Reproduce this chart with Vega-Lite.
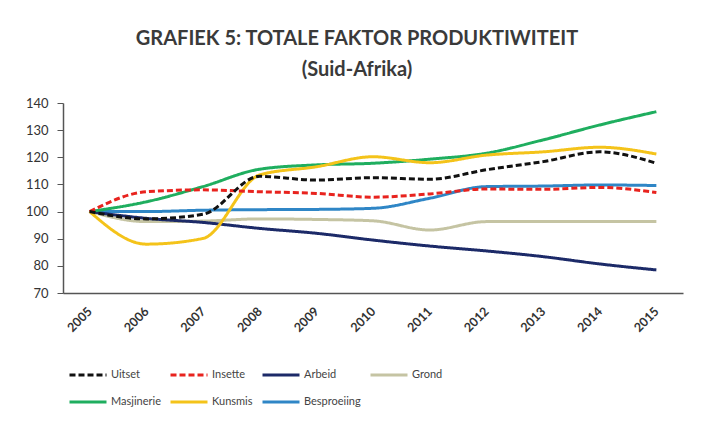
{
  "$schema": "https://vega.github.io/schema/vega-lite/v6.json",
  "width": 620,
  "height": 190,
  "autosize": {"type": "none"},
  "padding": {"left": 63, "top": 103, "right": 19, "bottom": 135},
  "background": "#ffffff",
  "title": {
    "text": ["GRAFIEK 5: TOTALE FAKTOR PRODUKTIWITEIT", "(Suid-Afrika)"],
    "font": "Lato",
    "fontSize": 20,
    "fontWeight": "bold",
    "color": "#3a3a3a",
    "lineHeight": 31,
    "anchor": "middle",
    "dx": -16,
    "offset": 17
  },
  "data": {
    "values": [
      {"year": "2005", "series": "Besproeiing", "value": 100},
      {"year": "2006", "series": "Besproeiing", "value": 100},
      {"year": "2007", "series": "Besproeiing", "value": 100.5},
      {"year": "2008", "series": "Besproeiing", "value": 100.7},
      {"year": "2009", "series": "Besproeiing", "value": 100.8},
      {"year": "2010", "series": "Besproeiing", "value": 101.2},
      {"year": "2011", "series": "Besproeiing", "value": 104.9},
      {"year": "2012", "series": "Besproeiing", "value": 109.2},
      {"year": "2013", "series": "Besproeiing", "value": 109.4},
      {"year": "2014", "series": "Besproeiing", "value": 109.8},
      {"year": "2015", "series": "Besproeiing", "value": 109.6},
      {"year": "2005", "series": "Grond", "value": 100},
      {"year": "2006", "series": "Grond", "value": 96.3},
      {"year": "2007", "series": "Grond", "value": 96.5},
      {"year": "2008", "series": "Grond", "value": 97.3},
      {"year": "2009", "series": "Grond", "value": 97.1},
      {"year": "2010", "series": "Grond", "value": 96.6},
      {"year": "2011", "series": "Grond", "value": 93.2},
      {"year": "2012", "series": "Grond", "value": 96.3},
      {"year": "2013", "series": "Grond", "value": 96.3},
      {"year": "2014", "series": "Grond", "value": 96.3},
      {"year": "2015", "series": "Grond", "value": 96.3},
      {"year": "2005", "series": "Arbeid", "value": 100},
      {"year": "2006", "series": "Arbeid", "value": 97.5},
      {"year": "2007", "series": "Arbeid", "value": 96},
      {"year": "2008", "series": "Arbeid", "value": 93.8},
      {"year": "2009", "series": "Arbeid", "value": 92},
      {"year": "2010", "series": "Arbeid", "value": 89.5},
      {"year": "2011", "series": "Arbeid", "value": 87.3},
      {"year": "2012", "series": "Arbeid", "value": 85.5},
      {"year": "2013", "series": "Arbeid", "value": 83.4},
      {"year": "2014", "series": "Arbeid", "value": 80.7},
      {"year": "2015", "series": "Arbeid", "value": 78.5},
      {"year": "2005", "series": "Masjinerie", "value": 100},
      {"year": "2006", "series": "Masjinerie", "value": 103.6},
      {"year": "2007", "series": "Masjinerie", "value": 109.2},
      {"year": "2008", "series": "Masjinerie", "value": 115.6},
      {"year": "2009", "series": "Masjinerie", "value": 117.2},
      {"year": "2010", "series": "Masjinerie", "value": 117.8},
      {"year": "2011", "series": "Masjinerie", "value": 119.3},
      {"year": "2012", "series": "Masjinerie", "value": 121.5},
      {"year": "2013", "series": "Masjinerie", "value": 126.4},
      {"year": "2014", "series": "Masjinerie", "value": 131.9},
      {"year": "2015", "series": "Masjinerie", "value": 136.8},
      {"year": "2005", "series": "Kunsmis", "value": 100},
      {"year": "2006", "series": "Kunsmis", "value": 88},
      {"year": "2007", "series": "Kunsmis", "value": 90.1},
      {"year": "2008", "series": "Kunsmis", "value": 113.5},
      {"year": "2009", "series": "Kunsmis", "value": 116.5},
      {"year": "2010", "series": "Kunsmis", "value": 120.2},
      {"year": "2011", "series": "Kunsmis", "value": 118},
      {"year": "2012", "series": "Kunsmis", "value": 120.8},
      {"year": "2013", "series": "Kunsmis", "value": 122},
      {"year": "2014", "series": "Kunsmis", "value": 123.7},
      {"year": "2015", "series": "Kunsmis", "value": 121.2},
      {"year": "2005", "series": "Insette", "value": 100},
      {"year": "2006", "series": "Insette", "value": 107.3},
      {"year": "2007", "series": "Insette", "value": 108},
      {"year": "2008", "series": "Insette", "value": 107.3},
      {"year": "2009", "series": "Insette", "value": 106.7},
      {"year": "2010", "series": "Insette", "value": 105.3},
      {"year": "2011", "series": "Insette", "value": 106.5},
      {"year": "2012", "series": "Insette", "value": 108.3},
      {"year": "2013", "series": "Insette", "value": 108.2},
      {"year": "2014", "series": "Insette", "value": 108.9},
      {"year": "2015", "series": "Insette", "value": 107},
      {"year": "2005", "series": "Uitset", "value": 100},
      {"year": "2006", "series": "Uitset", "value": 97.3},
      {"year": "2007", "series": "Uitset", "value": 99},
      {"year": "2008", "series": "Uitset", "value": 113},
      {"year": "2009", "series": "Uitset", "value": 111.6},
      {"year": "2010", "series": "Uitset", "value": 112.5},
      {"year": "2011", "series": "Uitset", "value": 111.9},
      {"year": "2012", "series": "Uitset", "value": 115.4},
      {"year": "2013", "series": "Uitset", "value": 118.4},
      {"year": "2014", "series": "Uitset", "value": 122},
      {"year": "2015", "series": "Uitset", "value": 117.8}
    ]
  },
  "mark": {"type": "line", "interpolate": "monotone"},
  "encoding": {
    "x": {
      "field": "year",
      "type": "ordinal",
      "scale": {"type": "point", "padding": 0.47},
      "axis": {
        "title": null,
        "labelAngle": -45,
        "labelAlign": "right",
        "labelBaseline": "middle",
        "labelPadding": 16,
        "labelFont": "Lato",
        "labelFontSize": 12.5,
        "labelFontWeight": "bold",
        "labelColor": "#333333",
        "ticks": false,
        "domainColor": "#555555",
        "domainWidth": 1.5,
        "grid": false
      }
    },
    "y": {
      "field": "value",
      "type": "quantitative",
      "scale": {"domain": [70, 140], "nice": false, "zero": false},
      "axis": {
        "title": null,
        "values": [70, 80, 90, 100, 110, 120, 130, 140],
        "labelFont": "Lato",
        "labelFontSize": 13,
        "labelColor": "#333333",
        "labelPadding": 9,
        "tickSize": 6,
        "tickColor": "#555555",
        "domainColor": "#555555",
        "domainWidth": 1.5,
        "grid": false
      }
    },
    "color": {
      "field": "series",
      "type": "nominal",
      "scale": {
        "domain": ["Uitset", "Insette", "Arbeid", "Grond", "Masjinerie", "Kunsmis", "Besproeiing"],
        "range": ["#111111", "#e8231e", "#1c2a68", "#c5c4a3", "#1fae5f", "#f4c31a", "#2f86c6"]
      },
      "legend": {
        "title": null,
        "orient": "none",
        "legendX": 5,
        "legendY": 252,
        "direction": "horizontal",
        "columns": 4,
        "symbolType": "stroke",
        "symbolSize": 1369,
        "symbolStrokeWidth": 3.5,
        "labelFont": "Lato",
        "labelFontSize": 11,
        "labelColor": "#444444",
        "labelOffset": 3,
        "columnPadding": 3,
        "rowPadding": 1
      }
    },
    "strokeDash": {
      "field": "series",
      "type": "nominal",
      "scale": {
        "domain": ["Uitset", "Insette", "Arbeid", "Grond", "Masjinerie", "Kunsmis", "Besproeiing"],
        "range": [[6, 3], [6, 3], [1, 0], [1, 0], [1, 0], [1, 0], [1, 0]]
      },
      "legend": null
    },
    "strokeWidth": {
      "field": "series",
      "type": "nominal",
      "scale": {
        "domain": ["Uitset", "Insette", "Arbeid", "Grond", "Masjinerie", "Kunsmis", "Besproeiing"],
        "range": [3, 3, 2.6, 2.6, 2.6, 2.6, 2.6]
      },
      "legend": null
    }
  },
  "config": {"view": {"stroke": null}}
}
